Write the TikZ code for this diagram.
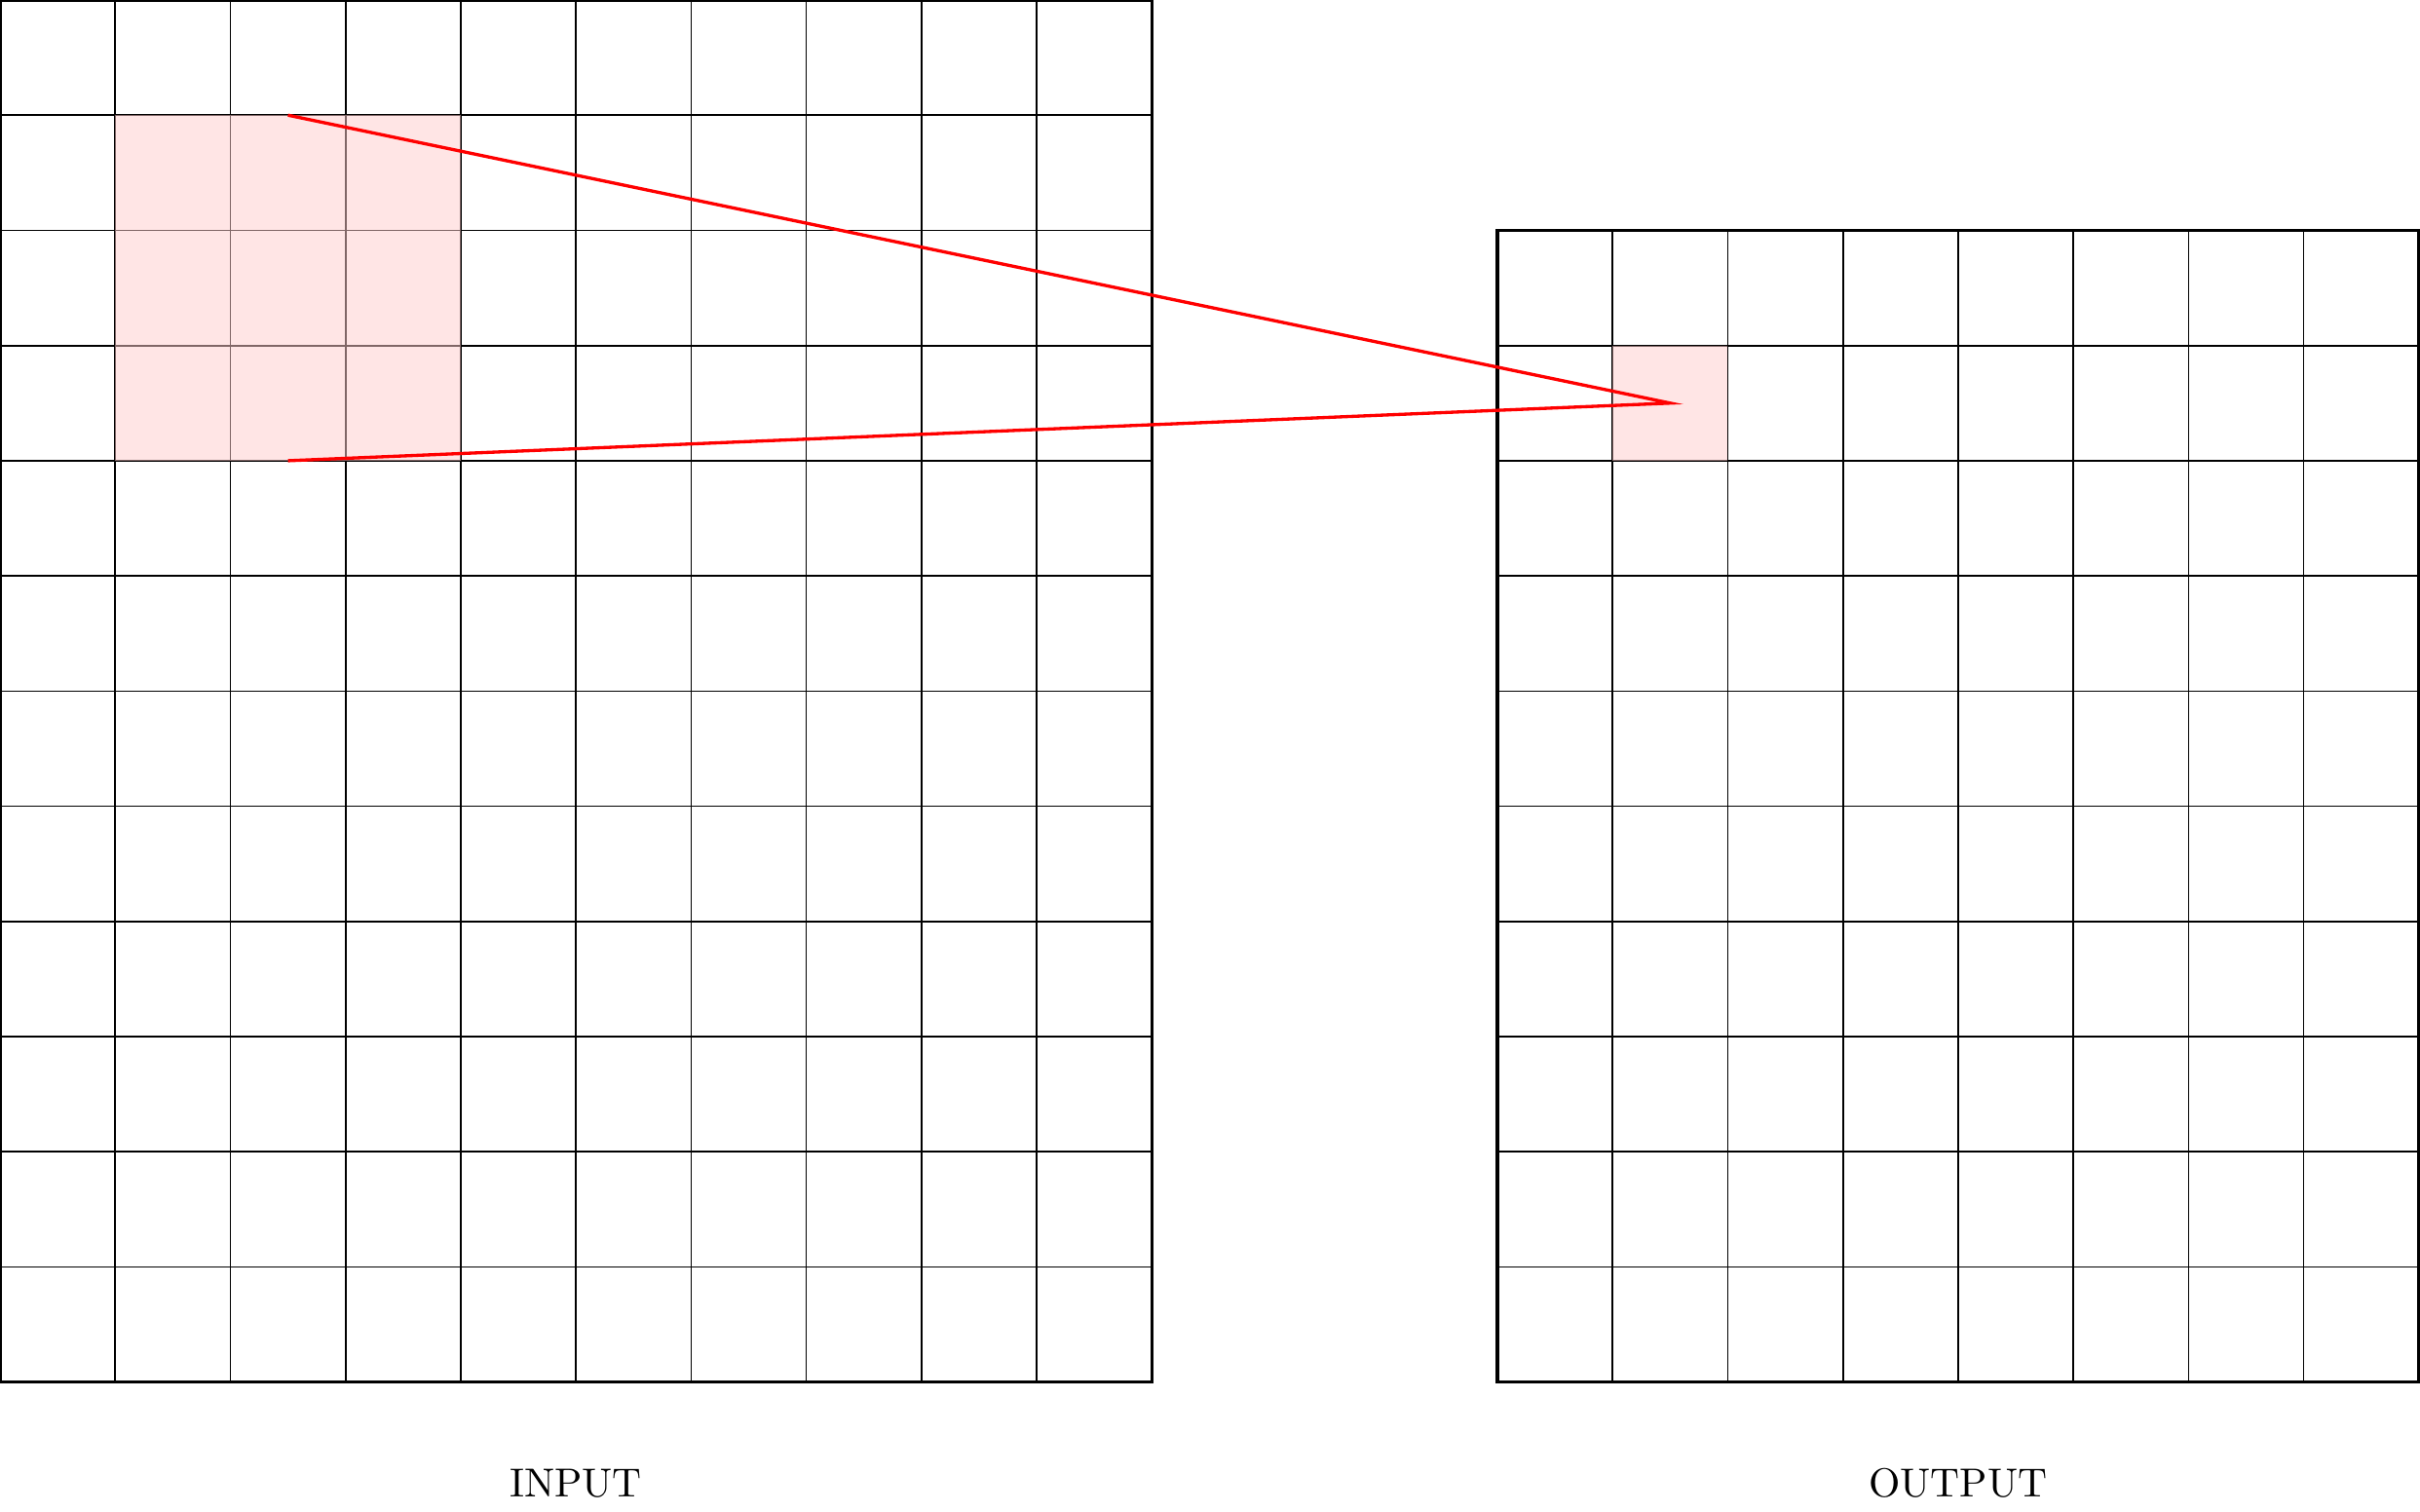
\documentclass[tikz,border=0pt]{standalone}
\usepackage{tikz}
\usetikzlibrary{calc}

\tikzset{
  window/.style={fill=red!20, fill opacity=0.5},
  field/.style={red, thick}
}

\begin{document}
\begin{tikzpicture}
    \useasboundingbox (0,-1.119) rectangle (21.01,12);

    % input grid
    \draw (0,0) grid (10,12); \draw[thick] (0,0) rectangle (10,12);

    % output grid
    \draw (13,0) grid (21,10); \draw[thick] (13,0) rectangle (21,10);

    % highlighted window and output cell
    \fill[window] (1,8) rectangle (4,11);
    \fill[window] (14,8) rectangle (15,9);

    % receptive field lines
    \coordinate (wintop) at (2.5,11); \coordinate (winbot) at (2.5,8);
    \coordinate (cell) at (14.5,8.5);
    \draw[field] (wintop) -- (cell) -- (winbot);

    % labels
    \node (input) at (5,-0.88) {INPUT};
    \node (output) at (17,-0.88) {OUTPUT};
  \end{tikzpicture}
\end{document}
